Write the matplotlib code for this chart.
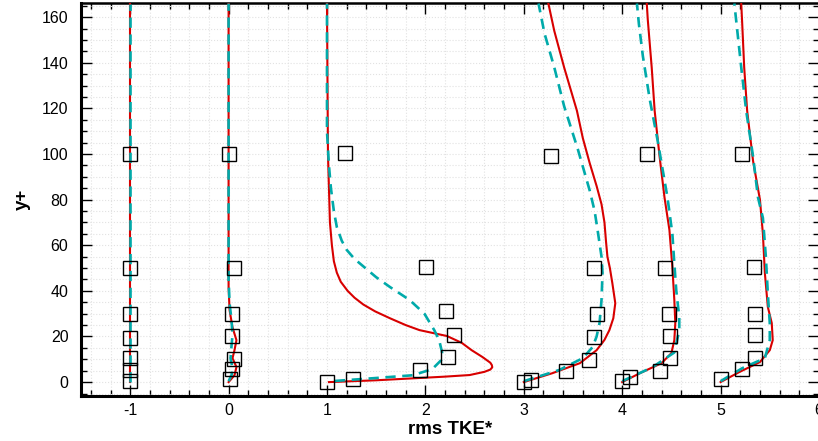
import numpy as np
import matplotlib.pyplot as plt
from matplotlib.ticker import MultipleLocator

plt.rcParams['font.family'] = ['Liberation Sans', 'DejaVu Sans']
plt.rcParams['axes.unicode_minus'] = False

# stations (x offsets added to the rms TKE values)
offsets = [-1, 0, 1, 3, 4, 5]

# experiment (squares)
y_exp_m1 = [0.4, 5.3, 10.5, 19.3, 30, 50, 100]
k_exp_m1 = [0.0, 0.0, 0.0, 0.0, 0.0, 0.0, 0.0]
y_exp_0 = [1.3, 5.7, 10, 20, 30, 50, 100]
k_exp_0 = [0.01, 0.03, 0.05, 0.03, 0.03, 0.05, 0.0]
y_exp_1 = [0, 1.3, 5.3, 11, 20.6, 31, 50.4, 100.3]
k_exp_1 = [0.0, 0.26, 0.95, 1.23, 1.29, 1.21, 1.01, 0.18]
y_exp_3 = [0, 0.8, 4.8, 9.6, 19.7, 29.8, 50, 99]
k_exp_3 = [0.0, 0.07, 0.43, 0.66, 0.71, 0.74, 0.71, 0.28]
y_exp_4 = [0.4, 2.4, 4.8, 10.5, 20, 29.8, 50, 100]
k_exp_4 = [0.0, 0.08, 0.38, 0.49, 0.49, 0.48, 0.44, 0.25]
y_exp_5 = [1.3, 5.7, 10.5, 20.6, 30, 50.4, 100]
k_exp_5 = [0.0, 0.22, 0.35, 0.35, 0.35, 0.34, 0.22]

# model A (solid red)
y_a_m1 = [0, 50, 100, 166]
k_a_m1 = [0.0, 0.0, 0.0, 0.0]
y_a_0 = [0, 3, 6.6, 10.5, 14, 18.4, 24, 31.6, 41.7, 166]
k_a_0 = [0.0, 0.06, 0.08, 0.04, 0.06, 0.08, 0.04, 0.01, 0.0, 0.0]
y_a_1 = [0, 0.8, 1.8, 2.4, 3.1, 4.5, 5.5, 6.5, 7.5, 8.5, 11, 14, 17.2, 20.2,
         22.8, 25, 28, 31, 34, 37, 40, 44, 48, 53, 60, 70, 85, 100, 166]
k_a_1 = [0.02, 0.5, 0.94, 1.2, 1.45, 1.6, 1.66, 1.68, 1.675, 1.66, 1.58,
         1.47, 1.37, 1.22, 0.94, 0.80, 0.64, 0.49, 0.37, 0.28, 0.21, 0.14,
         0.10, 0.07, 0.05, 0.03, 0.02, 0.01, 0.0]
y_a_3 = [0, 3.9, 8.3, 14, 18.5, 22.8, 28, 34.6, 43.4, 50, 55, 62, 70, 78, 86,
         96, 107, 119, 138, 154, 166]
k_a_3 = [0.0, 0.29, 0.57, 0.74, 0.82, 0.87, 0.91, 0.93, 0.90, 0.875, 0.85,
         0.835, 0.82, 0.79, 0.74, 0.67, 0.60, 0.54, 0.41, 0.31, 0.25]
y_a_4 = [0, 3.9, 8.3, 12.7, 18.4, 25.9, 36, 50.4, 66.7, 81, 99, 119, 138, 159, 166]
k_a_4 = [0.0, 0.18, 0.40, 0.50, 0.53, 0.54, 0.53, 0.51, 0.48, 0.43, 0.38,
         0.33, 0.30, 0.26, 0.25]
y_a_5 = [0, 4.4, 8.8, 14, 18.4, 25.9, 33, 47.8, 65, 80, 97, 119, 138, 157, 166]
k_a_5 = [0.0, 0.19, 0.40, 0.50, 0.53, 0.52, 0.48, 0.45, 0.43, 0.40, 0.33,
         0.27, 0.24, 0.22, 0.21]

# model B (dashed cyan)
y_b_m1 = [0, 50, 100, 166]
k_b_m1 = [0.0, 0.0, 0.0, 0.0]
y_b_0 = [0.4, 3, 6, 10.5, 16, 20.6, 27, 34.6, 45, 166]
k_b_0 = [0.0, 0.03, 0.04, 0.02, 0.03, 0.04, 0.03, 0.01, 0.0, 0.0]
y_b_1 = [0.5, 1.8, 3, 5.7, 9.6, 13, 18.4, 22.8, 30, 36, 41.7, 46, 50, 54,
         58, 62, 68, 75, 85, 95, 110, 166]
k_b_1 = [0.08, 0.5, 0.87, 1.07, 1.16, 1.17, 1.14, 1.09, 0.99, 0.84, 0.64,
         0.50, 0.39, 0.28, 0.20, 0.15, 0.10, 0.07, 0.04, 0.02, 0.0, 0.0]
y_b_3 = [0.4, 5.3, 10.5, 15.4, 20, 25.9, 36, 47.8, 55, 66.7, 75, 84, 93, 102,
         121, 138, 153, 166]
k_b_3 = [0.0, 0.36, 0.60, 0.70, 0.74, 0.77, 0.79, 0.80, 0.79, 0.75, 0.72,
         0.67, 0.61, 0.55, 0.41, 0.31, 0.21, 0.15]
y_b_4 = [0.4, 6.6, 13, 22.8, 28.5, 40, 52, 65, 81, 106, 124, 143, 157, 166]
k_b_4 = [0.0, 0.31, 0.53, 0.58, 0.58, 0.55, 0.53, 0.51, 0.46, 0.36, 0.28,
         0.21, 0.17, 0.15]
y_b_5 = [0.4, 6.1, 10.5, 18.4, 25.9, 39, 55, 72, 81, 99, 119, 138, 154, 166]
k_b_5 = [0.0, 0.22, 0.45, 0.50, 0.50, 0.48, 0.46, 0.43, 0.38, 0.33, 0.26,
         0.21, 0.17, 0.14]

exp_y = [y_exp_m1, y_exp_0, y_exp_1, y_exp_3, y_exp_4, y_exp_5]
exp_k = [k_exp_m1, k_exp_0, k_exp_1, k_exp_3, k_exp_4, k_exp_5]
a_y = [y_a_m1, y_a_0, y_a_1, y_a_3, y_a_4, y_a_5]
a_k = [k_a_m1, k_a_0, k_a_1, k_a_3, k_a_4, k_a_5]
b_y = [y_b_m1, y_b_0, y_b_1, y_b_3, y_b_4, y_b_5]
b_k = [k_b_m1, k_b_0, k_b_1, k_b_3, k_b_4, k_b_5]

red = '#d80000'
cyan = '#00aaaa'

fig = plt.figure(figsize=(8.18, 4.41), dpi=100)
ax = fig.add_axes([0.099, 0.102, 0.9022, 0.891])

for i, off in enumerate(offsets):
    ax.plot(np.array(a_k[i]) + off, a_y[i], '-', color=red, lw=1.5, zorder=3)
    ax.plot(np.array(b_k[i]) + off, b_y[i], '--', color=cyan, lw=1.9,
            dashes=(3.9, 2.5), zorder=4)
    ax.plot(np.array(exp_k[i]) + off, exp_y[i], 's', ms=10, mfc='none',
            mec='black', mew=1.0, zorder=5, clip_on=False)

ax.set_xlim(-1.5, 6)
ax.set_ylim(-6.1, 166.2)
ax.xaxis.set_major_locator(MultipleLocator(1))
ax.xaxis.set_minor_locator(MultipleLocator(0.2))
ax.yaxis.set_major_locator(MultipleLocator(20))
ax.yaxis.set_minor_locator(MultipleLocator(5))

ax.grid(True, which='both', color='#e2e2e2', ls=':', lw=0.8, zorder=0)
ax.tick_params(which='both', direction='in', top=True, right=True,
               labelsize=11.5, colors='black')
ax.tick_params(which='major', length=8, width=1.0)
ax.tick_params(which='minor', length=4.5, width=1.0)
ax.tick_params(axis='x', pad=5)
ax.tick_params(axis='y', pad=9)

ax.spines['left'].set_linewidth(2.2)
ax.spines['bottom'].set_linewidth(2.2)
ax.spines['top'].set_linewidth(1.8)
ax.spines['right'].set_linewidth(1.0)

ax.set_xlabel('rms TKE*', fontsize=13.5, fontweight='bold', labelpad=2)
ax.set_ylabel('y+', fontsize=13.5, fontweight='bold', labelpad=8)

fig.savefig('out.png', dpi=100)
